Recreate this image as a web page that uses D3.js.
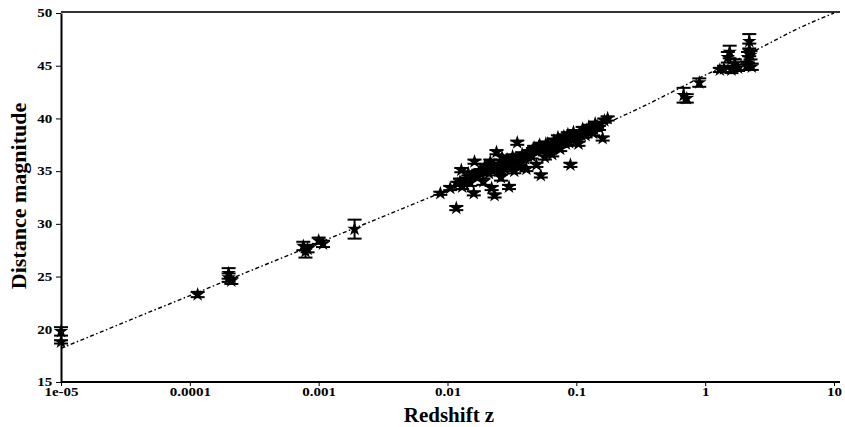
<!DOCTYPE html>
<html>
<head>
<meta charset="utf-8">
<script src="https://cdn.jsdelivr.net/npm/d3@7"></script>
<style>
  body { margin: 0; background: #fff; }
  svg text { font-family: "Liberation Serif", "Times New Roman", serif; font-weight: bold; }
</style>
</head>
<body>
<svg id="chart" width="845" height="427"></svg>
<script>
// observed points: redshift, distance modulus, error half-length
var zValues = [
  1e-5, 1e-5, 1.15e-4, 2.0e-4, 2.0e-4, 2.1e-4, 7.6e-4, 7.9e-4, 8.2e-4, 1.0e-3, 1.08e-3, 1.9e-3,
  0.0088, 0.0105, 0.0117, 0.012, 0.0125, 0.0128, 0.013, 0.014, 0.015, 0.0155, 0.016, 0.0162,
  0.017, 0.018, 0.019, 0.02, 0.021, 0.022, 0.023, 0.0232, 0.024, 0.025, 0.026, 0.027,
  0.028, 0.029, 0.03, 0.031, 0.032, 0.033, 0.0348, 0.035, 0.036, 0.038, 0.04, 0.041,
  0.043, 0.045, 0.047, 0.049, 0.05, 0.052, 0.053, 0.055, 0.057, 0.06, 0.062, 0.065,
  0.067, 0.07, 0.072, 0.075, 0.078, 0.08, 0.083, 0.086, 0.09, 0.091, 0.095, 0.1,
  0.104, 0.108, 0.112, 0.118, 0.125, 0.13, 0.14, 0.15, 0.16, 0.165, 0.175,
  0.0135, 0.0145, 0.0175, 0.0195, 0.0215, 0.0245, 0.0265, 0.0295, 0.0335, 0.037, 0.042, 0.046,
  0.051, 0.058, 0.063, 0.068, 0.073, 0.082, 0.088, 0.097, 0.11, 0.12, 0.135, 0.145,
  0.68, 0.72, 0.9, 1.3, 1.4, 1.5, 1.55, 1.6, 1.7, 1.8, 2.1, 2.15, 2.2, 2.2, 2.25, 2.3
];
var muValues = [
  19.8, 18.8, 23.3, 25.3, 24.9, 24.6, 27.9, 27.4, 27.6, 28.4, 28.1, 29.5,
  32.9, 33.4, 31.5, 33.8, 34.0, 35.1, 33.5, 34.2, 33.9, 34.6, 32.9, 35.9,
  34.4, 35.0, 34.0, 35.3, 34.8, 33.4, 35.6, 32.7, 36.8, 35.0, 34.4, 35.8,
  35.2, 36.1, 33.5, 35.5, 36.4, 35.0, 37.7, 36.0, 35.4, 36.6, 36.2, 35.2,
  36.8, 36.4, 37.2, 35.6, 36.9, 37.5, 34.6, 37.0, 36.3, 37.6, 37.2, 36.6,
  37.9, 37.4, 38.2, 37.1, 37.8, 38.3, 37.6, 38.5, 35.6, 38.0, 38.7, 38.2,
  37.6, 38.6, 39.0, 38.4, 39.2, 38.8, 39.5, 39.1, 38.1, 39.8, 40.0,
  33.9, 34.8, 34.9, 35.5, 35.9, 35.3, 36.3, 35.9, 36.2, 36.0, 36.5, 37.0,
  37.3, 37.6, 36.9, 37.4, 37.7, 37.9, 37.7, 38.1, 38.4, 38.9, 38.6, 39.3,
  42.2, 41.9, 43.4, 44.6, 44.7, 45.8, 46.3, 44.6, 45.2, 44.8, 45.0, 45.8, 46.5, 47.3, 46.0, 44.9
];
var errValues = [
  0.4, 0.15, 0.25, 0.5, 0.4, 0.3, 0.4, 0.6, 0.3, 0.3, 0.3, 0.9,
  0.15, 0.2, 0.2, 0.2, 0.3, 0.2, 0.2, 0.2, 0.3, 0.2, 0.2, 0.2,
  0.2, 0.2, 0.3, 0.2, 0.2, 0.2, 0.2, 0.2, 0.2, 0.2, 0.3, 0.2,
  0.2, 0.2, 0.2, 0.2, 0.2, 0.2, 0.2, 0.2, 0.2, 0.2, 0.2, 0.2,
  0.2, 0.2, 0.2, 0.2, 0.2, 0.2, 0.2, 0.2, 0.2, 0.2, 0.2, 0.2,
  0.2, 0.2, 0.2, 0.2, 0.2, 0.2, 0.2, 0.2, 0.2, 0.2, 0.2, 0.2,
  0.2, 0.2, 0.2, 0.2, 0.2, 0.2, 0.2, 0.2, 0.2, 0.2, 0.2,
  0.2, 0.2, 0.2, 0.2, 0.2, 0.2, 0.2, 0.2, 0.2, 0.2, 0.2, 0.2,
  0.2, 0.2, 0.2, 0.2, 0.2, 0.2, 0.2, 0.2, 0.2, 0.2, 0.2, 0.2,
  0.7, 0.4, 0.4, 0.2, 0.3, 0.5, 0.6, 0.3, 0.4, 0.3, 0.4, 0.5, 0.6, 0.7, 0.4, 0.3
];

// model curve
var modelZ = [1e-5, 1e-4, 1e-3, 0.01, 0.03, 0.1, 0.3, 1, 2, 3, 5, 10];
var modelMu = [18.2, 23.2, 28.2, 33.2, 35.6, 38.3, 40.9, 44.1, 45.9, 47.0, 48.4, 50.0];

var xTicks = [1e-5, 1e-4, 1e-3, 0.01, 0.1, 1, 10];
var xTickLabels = ["1e-05", "0.0001", "0.001", "0.01", "0.1", "1", "10"];
var yTicks = [15, 20, 25, 30, 35, 40, 45, 50];

function main() {
    var svg = d3.select("#chart"),
        left = 61, right = 834, top = 13, bottom = 382;

    var xScale = d3.scaleLog().domain([1e-5, 10]).range([left, right]),
        yScale = d3.scaleLinear().domain([15, 50]).range([bottom, top]);

    // frame top
    svg.append("line")
        .attr("x1", left).attr("x2", 840)
        .attr("y1", top - 1).attr("y2", top - 1)
        .attr("stroke", "#333").attr("stroke-width", 2);

    var xAxis = svg.append("g")
        .attr("transform", "translate(0," + bottom + ")")
        .call(d3.axisBottom(xScale).tickValues(xTicks)
            .tickFormat(function(d, i) { return xTickLabels[i]; })
            .tickSize(4).tickSizeOuter(0));
    xAxis.select(".domain").attr("stroke-width", 2).attr("d", "M" + left + ",0H840");
    xAxis.selectAll("text").attr("font-size", 12).attr("y", 5)
        .attr("transform", "scale(1.25,1)").attr("fill", "#000");

    var yAxis = svg.append("g")
        .attr("transform", "translate(" + left + ",0)")
        .call(d3.axisLeft(yScale).tickValues(yTicks).tickSize(5).tickSizeOuter(0));
    yAxis.select(".domain").attr("stroke-width", 2);
    yAxis.selectAll("text").attr("font-size", 12).attr("x", -7)
        .attr("transform", "scale(1.25,1)").attr("fill", "#000");

    // model line
    var modelData = modelZ.map(function(z, i) { return [z, modelMu[i]]; });
    svg.append("path")
        .datum(modelData)
        .attr("fill", "none")
        .attr("stroke", "#000")
        .attr("stroke-width", 1.4)
        .attr("stroke-dasharray", "4,2.5,1.5,2.5")
        .attr("d", d3.line()
            .curve(d3.curveMonotoneX)
            .x(function(d) { return xScale(d[0]); })
            .y(function(d) { return yScale(d[1]); }));

    var pts = zValues.map(function(z, i) { return { z: z, mu: muValues[i], e: errValues[i] }; });

    var g = svg.append("g").attr("stroke", "#000").attr("stroke-width", 2);
    var cap = 7;
    pts.forEach(function(d) {
        var x = xScale(d.z), y1 = yScale(d.mu + d.e), y2 = yScale(d.mu - d.e);
        g.append("line").attr("x1", x).attr("x2", x).attr("y1", y1).attr("y2", y2);
        g.append("line").attr("x1", x - cap).attr("x2", x + cap).attr("y1", y1).attr("y2", y1);
        g.append("line").attr("x1", x - cap).attr("x2", x + cap).attr("y1", y2).attr("y2", y2);
    });

    svg.append("g").selectAll("path")
        .data(pts)
        .enter().append("path")
        .attr("transform", function(d) { return "translate(" + xScale(d.z) + "," + yScale(d.mu) + ")"; })
        .attr("d", d3.symbol().type(d3.symbolStar).size(65))
        .attr("fill", "#000");

    // titles
    svg.append("text")
        .attr("x", 449).attr("y", 422)
        .attr("text-anchor", "middle")
        .attr("font-size", 21)
        .text("Redshift z");

    svg.append("text")
        .attr("transform", "translate(26,196) rotate(-90)")
        .attr("text-anchor", "middle")
        .attr("font-size", 22)
        .text("Distance magnitude");
}
main();
</script>
</body>
</html>
